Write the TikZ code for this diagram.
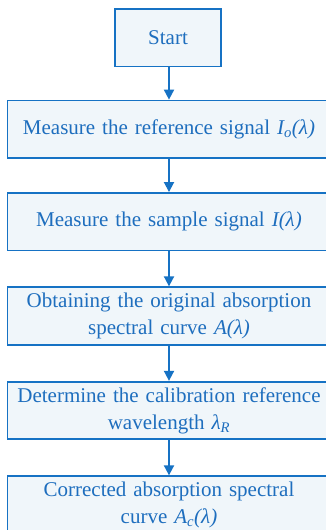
\documentclass[tikz,border=0pt]{standalone}
\usepackage{fontspec}
\setmainfont{Liberation Serif}
\usetikzlibrary{arrows.meta}
\definecolor{bline}{RGB}{22,114,196}
\definecolor{bfill}{RGB}{240,246,250}
\definecolor{btext}{RGB}{30,110,190}
\tikzset{
  stepbox/.style={draw=bline, line width=1.8pt, fill=bfill, text=btext,
    minimum height=57.5pt, align=center, inner sep=2pt,
    font=\fontsize{21}{27}\selectfont},
  wide/.style={minimum width=323pt, text width=318pt},
  flow/.style={draw=bline, line width=1.8pt, -{Triangle[width=10pt,length=10pt]}}
}
\begin{document}
\begin{tikzpicture}[x=1pt,y=-1pt]
\useasboundingbox (0,0) rectangle (326,530);
\clip (0,0) rectangle (326,530);
\fill[white] (0,0) rectangle (326,530);
\node[stepbox, minimum width=106pt] (s) at (168,37.7) {Start};
\node[stepbox, wide] (b1) at (169,129.3) {Measure the reference signal \textit{I\textsubscript{o}(λ)}};
\node[stepbox, wide] (b2) at (169,221.7) {Measure the sample signal \textit{I(λ)}};
\node[stepbox, wide] (b3) at (169,316) {Obtaining the original absorption\\spectral curve \textit{A(λ)}};
\node[stepbox, wide] (b4) at (169,410.5) {Determine the calibration reference\\wavelength \textit{λ\textsubscript{R}}};
\node[stepbox, wide] (b5) at (169,505) {Corrected absorption spectral\\curve \textit{A\textsubscript{c}(λ)}};
\draw[flow] (s.south -| b1.north) -- (b1.north);
\draw[flow] (b1.south) -- (b2.north);
\draw[flow] (b2.south) -- (b3.north);
\draw[flow] (b3.south) -- (b4.north);
\draw[flow] (b4.south) -- (b5.north);
\end{tikzpicture}
\end{document}
